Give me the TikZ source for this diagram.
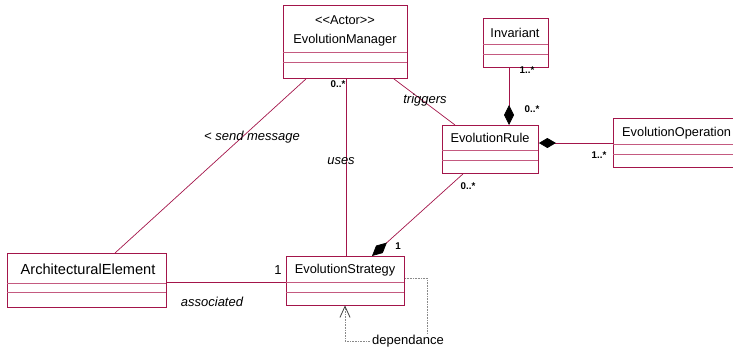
\documentclass[tikz,border=0pt]{standalone}
\usepackage{fontspec}
\setmainfont{Liberation Sans}
\usetikzlibrary{arrows.meta,calc}
\definecolor{umlred}{HTML}{A3154A}
\definecolor{umlpink}{HTML}{C45A80}
\definecolor{depgray}{HTML}{8A8A8A}
\tikzset{
  cls/.style={draw=umlred, line width=0.9pt, inner sep=0pt, anchor=north west},
  sep/.style={draw=umlpink, line width=0.9pt},
  conn/.style={draw=umlred, line width=0.7pt},
  cname/.style={inner sep=0pt, font=\fontsize{12.8}{14}\selectfont},
  role/.style={inner sep=0pt, font=\fontsize{13}{15}\selectfont\itshape},
  mult/.style={inner sep=0pt, font=\fontsize{9.8}{11}\selectfont\bfseries},
  comp/.style={-{Diamond[length=20pt,width=10pt,color=black,fill=black]}},
  dep/.style={draw=depgray, line width=0.6pt, densely dotted},
}
\begin{document}
\begin{tikzpicture}[x=1pt,y=-1pt]
\useasboundingbox (0,0) rectangle (733,349);
% classes
\node[cls, minimum width=124pt, minimum height=73pt] (em) at (283,5) {};
\node[cls, minimum width=65pt, minimum height=49pt] (inv) at (483,18) {};
\node[cls, minimum width=96pt, minimum height=48pt] (er) at (442,125) {};
\node[cls, minimum width=127pt, minimum height=49pt] (eo) at (613,118) {};
\node[cls, minimum width=159pt, minimum height=54pt] (ae) at (7,253) {};
\node[cls, minimum width=118pt, minimum height=49pt] (es) at (286,256) {};
% separators
\draw[sep] (283,52) -- (407,52); \draw[sep] (283,62) -- (407,62);
\draw[sep] (483,44) -- (548,44); \draw[sep] (483,54) -- (548,54);
\draw[sep] (442,150) -- (538,150); \draw[sep] (442,160) -- (538,160);
\draw[sep] (613,144) -- (740,144); \draw[sep] (613,154) -- (740,154);
\draw[sep] (7,283) -- (166,283); \draw[sep] (7,292) -- (166,292);
\draw[sep] (286,282) -- (404,282); \draw[sep] (286,292) -- (404,292);
% class names
\node[cname] (emst) at (345,20) {<{}<Actor>{}>};
\node[cname] (emn) at (345,40) {EvolutionManager};
\node[cname] (invn) at (515,33) {Invariant};
\node[cname] (ern) at (490,138) {EvolutionRule};
\node[cname, anchor=west] (eon) at (622,133) {EvolutionOperation};
\node[inner sep=0pt, font=\fontsize{14.6}{16}\selectfont] (aen) at (88,269) {ArchitecturalElement};
\node[cname] (esn) at (345,270) {EvolutionStrategy};
% connectors
\draw[conn] ($(em.south west)+(23,0)$) -- ($(ae.north west)+(108,0)$);
\draw[conn] ($(em.south west)+(63,0)$) -- ($(es.north west)+(60,0)$);
\draw[conn] ($(em.south east)+(-14,0)$) -- ($(er.north west)+(13,0)$);
\draw[conn, comp] ($(inv.south west)+(26,0)$) -- ($(er.north west)+(67,0)$);
\draw[conn, {Diamond[length=17pt,width=10pt,color=black,fill=black]}-] ($(er.north east)+(0,18)$) -- ($(eo.north west)+(0,25)$);
\draw[conn, comp] ($(er.south west)+(21,0)$) -- ($(es.north west)+(86,0)$);
\draw[conn] ($(ae.north east)+(0,29)$) -- ($(es.north west)+(0,26)$);
\coordinate (d1) at (427,278);
\coordinate (d2) at (427,341);
\coordinate (d3) at (345,341);
\draw[dep, -{Straight Barb[length=11pt,width=10pt,line width=0.8pt,round,color=black!75]}] ($(es.north east)+(0,22)$) -- (d1) -- (d2) -- (d3) -- (d3 |- es.south);
% labels
\node[mult] (m1) at (338,84) {0..*};
\node[role] (l1) at (425,100) {triggers};
\node[role] (l2) at (252,137) {< send message};
\node[role] (l3) at (341,161) {uses};
\node[mult] (m2) at (527,70) {1..*};
\node[mult] (m3) at (532,109) {0..*};
\node[mult] (m4) at (599,155) {1..*};
\node[mult] (m5) at (468,186) {0..*};
\node[mult] (m6) at (398,246) {1};
\node[inner sep=0pt, font=\fontsize{13}{15}\selectfont] (m7) at (278,270) {1};
\node[role] (l4) at (212,302) {associated};
\node[inner sep=1pt, fill=white, font=\fontsize{13}{15}\selectfont] (l5) at (408,341) {dependance};
\end{tikzpicture}
\end{document}
